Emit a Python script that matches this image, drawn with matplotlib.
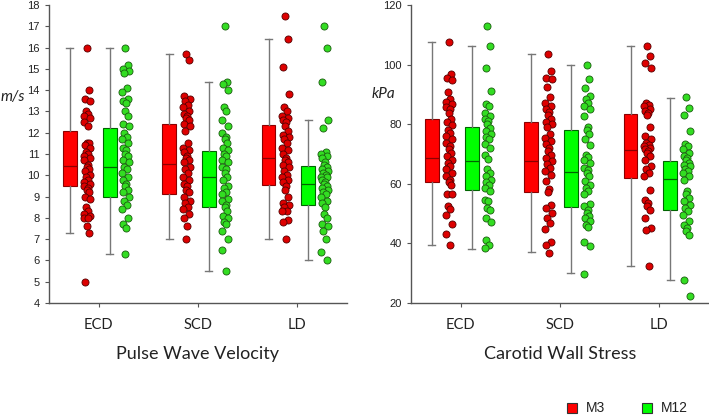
import matplotlib
matplotlib.use('Agg')
import matplotlib.pyplot as plt
from matplotlib.patches import Rectangle

groups = ['ECD', 'SCD', 'LD']
series = ['M3', 'M12']

# box summaries: (whislo, q1, med, q3, whishi)
pwv_box_m3 = [(7.3, 9.5, 10.45, 12.1, 16.0), (7.0, 9.1, 10.55, 12.4, 15.7), (7.0, 9.55, 10.8, 12.35, 16.4)]
pwv_box_m12 = [(6.3, 9.0, 10.4, 12.2, 16.0), (5.5, 8.5, 9.93, 11.15, 14.4), (6.0, 8.6, 9.6, 10.45, 12.6)]
cws_box_m3 = [(39.5, 60.7, 68.8, 81.7, 107.5), (37.1, 57.4, 67.8, 80.7, 103.6), (32.5, 62.0, 71.2, 83.5, 106.1)]
cws_box_m12 = [(38.1, 57.8, 67.5, 79.2, 106.1), (29.9, 52.2, 63.8, 78.1, 99.7), (27.6, 51.1, 61.6, 67.5, 88.8)]

# individual points
pwv_m3 = [
    [16.0, 14.0, 13.6, 13.5, 13.0, 12.9, 12.8, 12.7, 12.5, 12.3, 11.5, 11.5, 11.4, 11.3, 11.1, 11.0,
     10.9, 10.8, 10.7, 10.5, 10.4, 10.3, 10.2, 10.0, 9.9, 9.8, 9.7, 9.6, 9.5, 9.4, 9.3, 9.2, 9.0, 8.9,
     8.5, 8.3, 8.2, 8.1, 8.0, 8.0, 7.6, 7.3, 5.0],
    [15.7, 15.4, 13.7, 13.6, 13.5, 13.3, 13.2, 13.0, 12.9, 12.8, 12.7, 12.6, 12.4, 12.3, 12.1, 11.5,
     11.3, 11.2, 11.1, 10.9, 10.8, 10.7, 10.6, 10.4, 10.3, 10.1, 9.9, 9.8, 9.6, 9.5, 9.3, 9.2, 9.0,
     8.8, 8.7, 8.5, 8.4, 8.2, 8.0, 7.6, 7.0],
    [17.5, 16.4, 15.1, 13.8, 13.2, 13.0, 12.8, 12.7, 12.6, 12.5, 12.3, 12.1, 11.9, 11.8, 11.7, 11.5,
     11.3, 11.2, 11.0, 10.8, 10.7, 10.6, 10.5, 10.4, 10.2, 10.0, 9.9, 9.8, 9.7, 9.5, 9.3, 9.0, 8.7,
     8.6, 8.5, 8.3, 8.3, 7.9, 7.8, 7.0],
]
pwv_m12 = [
    [16.0, 15.2, 15.0, 14.9, 14.8, 14.1, 13.9, 13.6, 13.5, 13.4, 13.0, 12.8, 12.4, 12.3, 12.0, 11.8,
     11.7, 11.5, 11.3, 11.2, 11.0, 10.9, 10.7, 10.6, 10.4, 10.3, 10.1, 9.9, 9.8, 9.6, 9.5, 9.3, 9.2,
     9.0, 8.8, 8.6, 8.4, 8.0, 7.7, 7.5, 6.3],
    [17.0, 14.4, 14.3, 14.0, 13.2, 13.0, 12.6, 12.3, 12.0, 11.8, 11.7, 11.5, 11.3, 11.2, 11.0, 10.9,
     10.7, 10.6, 10.4, 10.3, 10.1, 9.9, 9.8, 9.5, 9.4, 9.2, 9.1, 8.9, 8.8, 8.6, 8.5, 8.3, 8.1, 8.0,
     7.8, 7.7, 7.4, 7.0, 6.5, 5.5],
    [17.0, 16.0, 14.4, 12.6, 12.2, 11.1, 11.0, 10.9, 10.8, 10.6, 10.5, 10.4, 10.3, 10.2, 10.1, 10.0,
     9.9, 9.9, 9.8, 9.7, 9.6, 9.5, 9.4, 9.3, 9.2, 9.1, 9.0, 8.8, 8.7, 8.5, 8.2, 8.0, 7.7, 7.6, 7.4,
     7.0, 6.4, 6.0],
]
cws_m3 = [
    [107.5, 96.8, 95.6, 94.9, 90.8, 88.4, 87.5, 86.7, 85.9, 85.0, 83.9, 81.8, 80.7, 79.6, 78.2, 77.1,
     76.0, 74.9, 73.8, 72.6, 71.5, 70.4, 69.3, 68.1, 67.0, 65.9, 64.8, 63.7, 62.5, 61.4, 60.5, 59.7,
     56.7, 56.4, 52.4, 51.5, 49.6, 46.6, 43.1, 39.5],
    [103.5, 97.9, 95.6, 95.1, 92.6, 89.2, 87.2, 86.1, 85.0, 84.1, 83.0, 81.8, 80.7, 79.9, 79.1, 76.6,
     75.4, 74.3, 73.2, 72.1, 71.0, 69.8, 68.7, 67.6, 66.5, 65.3, 64.2, 63.1, 60.9, 58.1, 57.2, 53.0,
     51.9, 50.2, 48.5, 46.8, 44.8, 40.3, 39.5, 36.9],
    [106.1, 102.9, 100.4, 98.7, 87.0, 86.5, 86.1, 85.0, 84.5, 83.9, 83.0, 79.1, 76.0, 74.9, 73.8, 73.0,
     72.6, 72.0, 71.5, 71.0, 70.4, 69.3, 68.1, 66.1, 65.0, 63.7, 62.5, 57.8, 54.7, 53.6, 52.4, 51.3,
     48.5, 45.1, 44.6, 32.5],
]
cws_m12 = [
    [113.0, 106.1, 99.0, 91.2, 86.7, 86.1, 83.6, 82.7, 81.8, 81.0, 79.9, 78.8, 77.7, 76.6, 75.8, 74.9,
     73.5, 72.1, 69.8, 68.4, 64.8, 63.7, 62.5, 61.4, 60.5, 59.7, 58.6, 57.5, 54.7, 54.1, 51.9, 51.1,
     48.5, 47.0, 41.2, 39.5, 38.4],
    [99.8, 95.3, 92.0, 89.5, 88.4, 87.2, 86.1, 85.2, 82.7, 79.1, 78.0, 76.6, 75.1, 72.9, 69.8, 69.0,
     68.1, 67.0, 65.3, 64.6, 63.7, 62.5, 60.9, 59.7, 58.6, 57.5, 56.4, 53.3, 52.4, 51.3, 50.2, 49.3,
     48.5, 47.4, 46.3, 45.5, 40.6, 39.2, 29.8],
    [89.1, 85.5, 83.0, 77.6, 73.5, 72.6, 71.5, 70.4, 69.3, 68.8, 68.1, 67.0, 66.4, 65.9, 64.8, 64.2,
     63.7, 62.5, 61.4, 57.5, 56.4, 55.2, 54.1, 53.0, 51.9, 50.8, 49.6, 47.4, 46.3, 45.1, 44.0, 42.9,
     27.8, 22.4],
]

RED, GREEN = '#ff0000', '#00ff00'
DOT_RED, DOT_GREEN = '#dd0000', '#33dd22'
jitter = [0.0, 0.025, -0.02, 0.035, -0.012, 0.015, -0.03, 0.03, -0.025, 0.008]


def to_stats(boxes):
    return [dict(whislo=b[0], q1=b[1], med=b[2], q3=b[3], whishi=b[4], fliers=[]) for b in boxes]


def draw_panel(ax, box_m3, box_m12, pts_m3, pts_m12, ylim, yticks):
    pos = list(range(len(groups)))
    for boxes, off, fc, ec in [(box_m3, -0.29, RED, '#8b0000'), (box_m12, 0.11, GREEN, '#006400')]:
        ax.bxp(to_stats(boxes), positions=[p + off for p in pos], widths=0.14, capwidths=0.07,
               patch_artist=True, showfliers=False, manage_ticks=False,
               boxprops=dict(facecolor=fc, edgecolor=ec, linewidth=0.8),
               medianprops=dict(color=ec, linewidth=0.9),
               whiskerprops=dict(color='#777777', linewidth=1.0),
               capprops=dict(color='#777777', linewidth=1.0))
    for pts, off, fc, ec in [(pts_m3, -0.12, DOT_RED, '#550000'), (pts_m12, 0.27, DOT_GREEN, '#1a5c10')]:
        for p, vals in zip(pos, pts):
            xs = [p + off + jitter[i % len(jitter)] for i in range(len(vals))]
            ax.scatter(xs, vals, s=26, color=fc, edgecolor=ec, linewidth=0.6, zorder=3)
    ax.set_xlim(-0.5, 2.5)
    ax.set_ylim(*ylim)
    ax.set_yticks(yticks)
    ax.set_xticks(pos)
    ax.set_xticklabels(groups, fontsize=10.5, family='Lato', color='#222222')
    ax.tick_params(axis='x', length=3, pad=8, color='#555555')
    ax.tick_params(axis='y', length=3, labelsize=8, color='#555555', labelcolor='#222222')
    for lab in ax.get_yticklabels():
        lab.set_family('Liberation Sans')
    for s in ['top', 'right']:
        ax.spines[s].set_visible(False)
    for s in ['left', 'bottom']:
        ax.spines[s].set_color('#555555')
        ax.spines[s].set_linewidth(1.0)


fig = plt.figure(figsize=(7.09, 4.15), dpi=100)
ax1 = fig.add_axes([0.0691, 0.270, 0.4203, 0.718])
ax2 = fig.add_axes([0.5797, 0.270, 0.4203, 0.718])

draw_panel(ax1, pwv_box_m3, pwv_box_m12, pwv_m3, pwv_m12, (4, 18), range(4, 19))
draw_panel(ax2, cws_box_m3, cws_box_m12, cws_m3, cws_m12, (20, 120), range(20, 121, 20))

ax1.set_xlabel('Pulse Wave Velocity', fontsize=13, family='Lato', color='#222222', labelpad=10)
ax2.set_xlabel('Carotid Wall Stress', fontsize=13, family='Lato', color='#222222', labelpad=10)

fig.text(1 / 709, 1 - 97 / 415, 'm/s', fontsize=11, style='italic', family='Lato',
         ha='left', va='center', color='#222222')
fig.text(372 / 709, 1 - 94 / 415, 'kPa', fontsize=11, style='italic', family='Lato',
         ha='left', va='center', color='#222222')

# legend
for lx, col, txt in [(567, RED, series[0]), (642, GREEN, series[1])]:
    fig.patches.append(Rectangle((lx / 709, 1 - 413 / 415), 10 / 709, 10 / 415, transform=fig.transFigure,
                                 facecolor=col, edgecolor='#333333', linewidth=0.8))
    fig.text((lx + 19) / 709, 1 - 408 / 415, txt, fontsize=10, family='Liberation Sans',
             va='center', ha='left', color='#222222')

fig.savefig('out.png', dpi=100)
